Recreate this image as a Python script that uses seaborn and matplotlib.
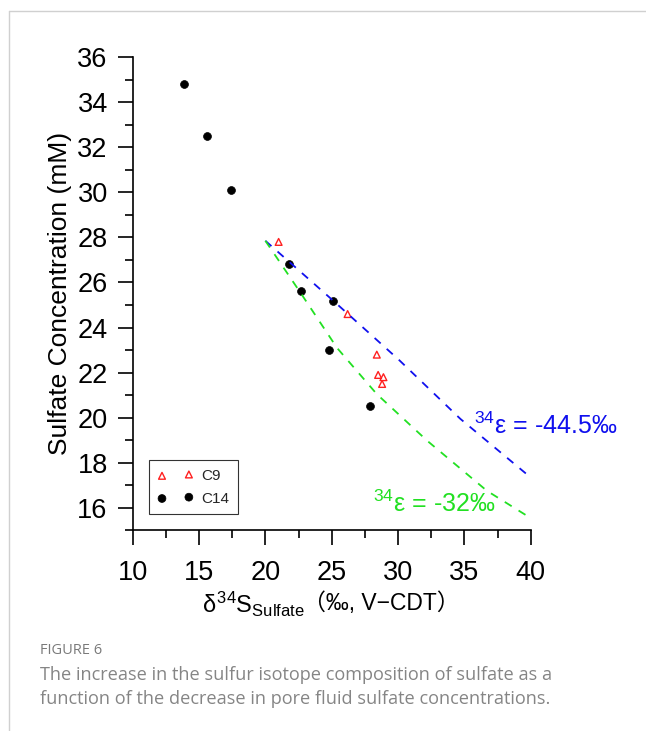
import matplotlib
matplotlib.use("Agg")
import matplotlib.pyplot as plt
from matplotlib.lines import Line2D
import seaborn as sns
import pandas as pd

sns.set_theme(style="white")
plt.rcParams['font.family'] = ['Liberation Sans', 'DejaVu Sans']
plt.rcParams['mathtext.fontset'] = 'custom'
plt.rcParams['mathtext.rm'] = 'Liberation Sans'
plt.rcParams['mathtext.it'] = 'Liberation Sans'

# ---- data ----
c14_d34s = [13.9, 15.6, 17.4, 21.8, 22.7, 25.1, 24.8, 27.9]
c14_conc = [34.8, 32.5, 30.1, 26.8, 25.6, 25.2, 23.0, 20.5]
c9_d34s = [21.0, 26.2, 28.4, 28.5, 28.9, 28.8]
c9_conc = [27.8, 24.6, 22.8, 21.9, 21.8, 21.5]

curve_445_x = [20.0, 25.1, 30.1, 34.7, 40.0]
curve_445_y = [27.85, 25.2, 22.55, 19.95, 17.35]
curve_32_x = [20.0, 22.7, 25.4, 28.4, 32.2, 36.7, 40.0]
curve_32_y = [27.85, 25.5, 23.1, 21.05, 18.98, 16.76, 15.55]

xticks = [10, 15, 20, 25, 30, 35, 40]
yticks = [16, 18, 20, 22, 24, 26, 28, 30, 32, 34, 36]

pts = pd.DataFrame({
    'x': c9_d34s + c14_d34s,
    'y': c9_conc + c14_conc,
    'core': ['C9'] * len(c9_d34s) + ['C14'] * len(c14_d34s),
})

fig = plt.figure(figsize=(6.46, 7.31), dpi=100)
ax = fig.add_axes([0.2054, 0.2743, 0.6161, 0.6477])

sns.lineplot(x=curve_445_x, y=curve_445_y, ax=ax, color='#1010ee', sort=False,
             estimator=None, linewidth=1.3, dashes=False, linestyle=(0, (4.5, 4.5)))
sns.lineplot(x=curve_32_x, y=curve_32_y, ax=ax, color='#22e022', sort=False,
             estimator=None, linewidth=1.3, dashes=False, linestyle=(0, (4.5, 4.5)))

c9 = pts[pts.core == 'C9']
c14 = pts[pts.core == 'C14']
sns.scatterplot(data=c9, x='x', y='y', ax=ax, marker='^', s=24,
                facecolors='none', edgecolor='#ff2020', linewidth=1.0, label='C9')
sns.scatterplot(data=c14, x='x', y='y', ax=ax, marker='o', s=32,
                color='black', edgecolor='black', linewidth=0.5, label='C14')

ax.set_xlim(10, 40)
ax.set_ylim(15, 36)
ax.set_xticks(xticks)
ax.set_yticks(yticks)
ax.set_xticks([12.5, 17.5, 22.5, 27.5, 32.5, 37.5], minor=True)
ax.set_yticks([15, 17, 19, 21, 23, 25, 27, 29, 31, 33, 35], minor=True)
ax.set_xticklabels([str(t) for t in xticks])
ax.set_yticklabels([str(t) for t in yticks])

for s in ['top', 'right']:
    ax.spines[s].set_visible(False)
for s in ['left', 'bottom']:
    ax.spines[s].set_color('black')
    ax.spines[s].set_linewidth(1.2)

ax.tick_params(axis='both', which='major', direction='out', length=11, width=1.2,
               color='black', labelsize=19.5, labelcolor='black',
               left=True, bottom=True)
ax.tick_params(axis='x', which='major', pad=10)
ax.tick_params(axis='y', which='major', pad=7)
ax.tick_params(axis='both', which='minor', direction='out', length=6, width=1.2,
               color='black', left=True, bottom=True)

ax.set_xlabel('')
ax.set_ylabel('Sulfate Concentration (mM)', fontsize=19, color='black', labelpad=4)

# x label: math part + plain part with full-width parentheses
xl1 = ax.text(0.432, -0.157, r'$\delta^{34}\mathrm{S}_{\mathrm{Sulfate}}$',
              transform=ax.transAxes, fontsize=17, color='black',
              ha='right', va='center')
ax.annotate('（‰, V−CDT）', xy=(1, 0.5), xycoords=xl1,
            xytext=(-1, 1), textcoords='offset points',
            ha='left', va='center', fontsize=16.5, color='black',
            family=['Liberation Sans', 'Noto Sans CJK SC', 'DejaVu Sans'])

ax.text(35.72, 19.64, r'$^{34}$ε = -44.5‰', color='#1010ee', fontsize=18,
        ha='left', va='center')
ax.text(28.1, 16.18, r'$^{34}$ε = -32‰', color='#22e022', fontsize=18,
        ha='left', va='center')

leg = ax.legend(loc='lower left', bbox_to_anchor=(0.041, 0.035), numpoints=2,
                scatterpoints=2, fontsize=11, frameon=True, fancybox=False,
                handlelength=2.36, handletextpad=0.5, borderpad=0.55,
                labelspacing=0.57, borderaxespad=0, edgecolor='black')
leg.get_frame().set_linewidth(0.8)

# figure card border
fig.add_artist(Line2D([9 / 646, 1.0], [1 - 11 / 731, 1 - 11 / 731],
                      transform=fig.transFigure, color='#d0d0d0', linewidth=1))
fig.add_artist(Line2D([9 / 646, 9 / 646], [0, 1 - 11 / 731],
                      transform=fig.transFigure, color='#d0d0d0', linewidth=1))

fig.text(40 / 646, 1 - 651 / 731, 'FIGURE 6', family=['Open Sans', 'DejaVu Sans'],
         fontsize=10.5, color='#7a7a7a', va='center', ha='left')
fig.text(40 / 646, 1 - 675.5 / 731,
         'The increase in the sulfur isotope composition of sulfate as a',
         family=['Open Sans', 'DejaVu Sans'], fontsize=13.1, color='#858585',
         va='center', ha='left')
fig.text(40 / 646, 1 - 698.5 / 731,
         'function of the decrease in pore fluid sulfate concentrations.',
         family=['Open Sans', 'DejaVu Sans'], fontsize=13.1, color='#858585',
         va='center', ha='left')

fig.savefig('out.png', dpi=100, facecolor='white')
